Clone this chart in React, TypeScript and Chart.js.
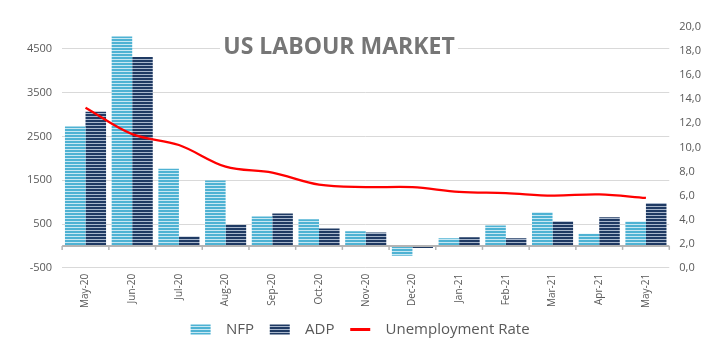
import React, { useEffect, useRef } from "react";
import { Chart, registerables } from "chart.js";

Chart.register(...registerables);

const CATEGORIES = ["May-20", "Jun-20", "Jul-20", "Aug-20", "Sep-20", "Oct-20", "Nov-20", "Dec-20", "Jan-21", "Feb-21", "Mar-21", "Apr-21", "May-21"];
const NFP = [2725, 4781, 1763, 1493, 672, 610, 336, -227, 174, 468, 770, 278, 559];
const ADP = [3065, 4314, 212, 481, 740, 400, 307, -50, 197, 174, 565, 654, 978];
const UNEMPLOYMENT = [13.3, 11.1, 10.2, 8.4, 7.9, 6.9, 6.7, 6.7, 6.3, 6.2, 6.0, 6.1, 5.8];
const LEFT_TICKS = [-500, 500, 1500, 2500, 3500, 4500];
const LEFT_MIN = -500;
const LEFT_MAX = 5000;
const RIGHT_MIN = 0;
const RIGHT_MAX = 20;
const RIGHT_STEP = 2;
const TITLE = "US LABOUR MARKET";
const SERIES_NAMES = ["NFP", "ADP", "Unemployment Rate"];

const FONT = "'Open Sans', 'Noto Sans', sans-serif";
const TEXT_COLOR = "#595959";

function makePattern(ctx: CanvasRenderingContext2D, base: string, stripe: string) {
  const c = document.createElement("canvas");
  c.width = 4;
  c.height = 3;
  const g = c.getContext("2d")!;
  g.fillStyle = base;
  g.fillRect(0, 0, 4, 3);
  g.fillStyle = stripe;
  g.fillRect(0, 2, 4, 1);
  return ctx.createPattern(c, "repeat") as CanvasPattern;
}

const zeroLinePlugin = {
  id: "zeroLine",
  afterDatasetsDraw(chart: any) {
    const { ctx, chartArea, scales } = chart;
    const y = scales.y.getPixelForValue(0);
    const xs = scales.x;
    ctx.save();
    ctx.strokeStyle = "#b4b4b4";
    ctx.lineWidth = 2;
    ctx.beginPath();
    ctx.moveTo(chartArea.left, y);
    ctx.lineTo(chartArea.right, y);
    ctx.stroke();
    ctx.lineWidth = 1.5;
    const n = CATEGORIES.length;
    const w = (chartArea.right - chartArea.left) / n;
    for (let i = 0; i <= n; i++) {
      const px = i < n ? xs.getPixelForValue(i) - w / 2 : xs.getPixelForValue(n - 1) + w / 2;
      ctx.beginPath();
      ctx.moveTo(px, y);
      ctx.lineTo(px, y + 4);
      ctx.stroke();
    }
    ctx.restore();
  },
};

export default function App() {
  const ref = useRef<HTMLCanvasElement | null>(null);

  useEffect(() => {
    document.body.style.margin = "0";
    const canvas = ref.current!;
    const ctx = canvas.getContext("2d")!;
    const nfpPattern = makePattern(ctx, "#4eb2d3", "#c8e8f3");
    const adpPattern = makePattern(ctx, "#1f3a63", "#a9b7cc");

    const chart = new Chart(canvas, {
      type: "bar",
      data: {
        labels: CATEGORIES,
        datasets: [
          {
            type: "bar",
            label: SERIES_NAMES[0],
            data: NFP,
            backgroundColor: nfpPattern,
            borderWidth: 0,
            yAxisID: "y",
            categoryPercentage: 0.88,
            barPercentage: 1.0,
            order: 1,
          },
          {
            type: "bar",
            label: SERIES_NAMES[1],
            data: ADP,
            backgroundColor: adpPattern,
            borderWidth: 0,
            yAxisID: "y",
            categoryPercentage: 0.88,
            barPercentage: 1.0,
            order: 1,
          },
          {
            type: "line",
            label: SERIES_NAMES[2],
            data: UNEMPLOYMENT,
            borderColor: "#ff0000",
            backgroundColor: "#ff0000",
            borderWidth: 2.25,
            pointRadius: 0,
            tension: 0.35,
            yAxisID: "y1",
            order: 0,
          },
        ],
      } as any,
      options: {
        animation: false,
        responsive: false,
        maintainAspectRatio: false,
        layout: { padding: { left: 17, right: 2, top: 27, bottom: 13 } },
        plugins: {
          tooltip: { enabled: false },
          legend: {
            position: "bottom",
            labels: {
              usePointStyle: true,
              pointStyleWidth: 20,
              boxHeight: 10,
              padding: 8,
              color: TEXT_COLOR,
              font: { family: FONT, size: 15 },
              sort: (a: any, b: any) => a.datasetIndex - b.datasetIndex,
              generateLabels: (chart: any) => {
                const items = (Chart.defaults.plugins.legend.labels as any).generateLabels(chart);
                items.forEach((it: any) => {
                  it.text = "  " + it.text + "  ";
                  if (it.datasetIndex === 2) {
                    it.pointStyle = "line";
                    it.strokeStyle = "#ff0000";
                    it.lineWidth = 3;
                  } else {
                    it.pointStyle = "rect";
                    it.lineWidth = 0;
                  }
                });
                return items;
              },
            },
          },
        },
        scales: {
          x: {
            grid: { display: false, drawTicks: false },
            border: { display: false },
            ticks: {
              color: TEXT_COLOR,
              font: { family: FONT, size: 10 },
              minRotation: 90,
              maxRotation: 90,
              padding: 6,
            },
          },
          y: {
            position: "left",
            min: LEFT_MIN,
            max: LEFT_MAX,
            afterBuildTicks: (scale: any) => {
              scale.ticks = LEFT_TICKS.map((v) => ({ value: v }));
            },
            grid: { color: "#d9d9d9", lineWidth: 1, drawTicks: false },
            border: { display: false },
            ticks: {
              color: TEXT_COLOR,
              font: { family: FONT, size: 11 },
              padding: 10,
              callback: (v: any) => String(v),
            },
          },
          y1: {
            position: "right",
            min: RIGHT_MIN,
            max: RIGHT_MAX,
            grid: { display: false, drawTicks: false },
            border: { display: false },
            ticks: {
              stepSize: RIGHT_STEP,
              color: TEXT_COLOR,
              font: { family: FONT, size: 11 },
              padding: 10,
              callback: (v: any) => Number(v).toFixed(1).replace(".", ","),
            },
          },
        },
      } as any,
      plugins: [zeroLinePlugin],
    });
    return () => chart.destroy();
  }, []);

  return (
    <div style={{ position: "relative", width: 713, height: 360 }}>
      <canvas ref={ref} width={713} height={360} style={{ display: "block" }} />
      <div
        style={{
          position: "absolute",
          left: 220,
          top: 30,
          width: 238,
          height: 30,
          background: "#ffffff",
          color: "#767676",
          fontFamily: FONT,
          fontWeight: 700,
          fontSize: 23,
          lineHeight: "30px",
          textAlign: "center",
          whiteSpace: "nowrap",
        }}
      >
        {TITLE}
      </div>
    </div>
  );
}
